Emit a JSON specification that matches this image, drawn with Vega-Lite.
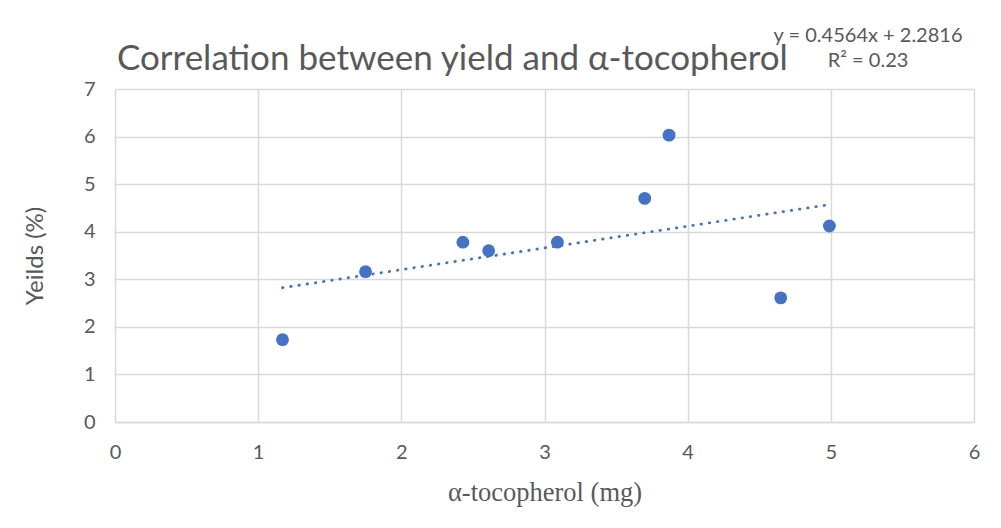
{
  "$schema": "https://vega.github.io/schema/vega-lite/v6.json",
  "autosize": "none",
  "width": 859,
  "height": 333,
  "padding": {"left": 115, "top": 89, "right": 27, "bottom": 106},
  "background": "white",
  "config": {
    "font": "Lato",
    "view": {"stroke": null},
    "axis": {
      "gridColor": "#d9d9d9",
      "gridWidth": 1.5,
      "domain": false,
      "ticks": false,
      "labelFlush": false,
      "labelColor": "#595959",
      "labelFont": "Lato",
      "labelFontSize": 20,
      "titleColor": "#595959",
      "titleFontWeight": "normal"
    }
  },
  "title": {
    "text": "Correlation between yield and α-tocopherol",
    "anchor": "start",
    "frame": "group",
    "font": "Lato",
    "fontSize": 35,
    "fontWeight": "normal",
    "color": "#595959",
    "offset": 12,
    "dx": 2,
    "dy": 63
  },
  "data": {
    "values": [
      {"toc": 1.17, "yield": 1.73},
      {"toc": 1.75, "yield": 3.16},
      {"toc": 2.43, "yield": 3.78},
      {"toc": 2.61, "yield": 3.60},
      {"toc": 3.09, "yield": 3.78},
      {"toc": 3.70, "yield": 4.70},
      {"toc": 3.87, "yield": 6.03},
      {"toc": 4.65, "yield": 2.61},
      {"toc": 4.99, "yield": 4.12}
    ]
  },
  "layer": [
    {
      "transform": [{"regression": "yield", "on": "toc"}],
      "mark": {"type": "line", "color": "#4472C4", "strokeWidth": 2.8, "strokeCap": "round", "strokeDash": [0.5, 7.8]},
      "encoding": {
        "x": {
          "field": "toc", "type": "quantitative",
          "scale": {"domain": [0, 6], "nice": false},
          "axis": {"values": [0,1,2,3,4,5,6], "format": "d", "labelPadding": 20, "labelFlush": false, "title": "α-tocopherol (mg)", "titleFont": "Liberation Serif", "titleFontSize": 26.5, "titlePadding": 17, "domain": true, "domainColor": "#d9d9d9", "domainWidth": 1.5}
        },
        "y": {
          "field": "yield", "type": "quantitative",
          "scale": {"domain": [0, 7], "nice": false},
          "axis": {"values": [0,1,2,3,4,5,6,7], "format": "d", "labelPadding": 20, "labelFlush": false, "title": "Yeilds (%)", "titleFont": "Lato", "titleFontSize": 24, "titlePadding": 36}
        }
      }
    },
    {
      "mark": {"type": "circle", "color": "#4472C4", "opacity": 1, "size": 165},
      "encoding": {
        "x": {"field": "toc", "type": "quantitative"},
        "y": {"field": "yield", "type": "quantitative"}
      }
    },
    {
      "data": {"values": [{"label": "y = 0.4564x + 2.2816\nR² = 0.23"}]},
      "mark": {"type": "text", "lineBreak": "\n", "align": "center", "baseline": "middle", "fontSize": 20, "fontWeight": "normal", "color": "#595959", "lineHeight": 25, "clip": false},
      "encoding": {
        "x": {"datum": 5.26, "type": "quantitative"},
        "y": {"datum": 8.12, "type": "quantitative"},
        "text": {"field": "label", "type": "nominal"}
      }
    }
  ]
}
